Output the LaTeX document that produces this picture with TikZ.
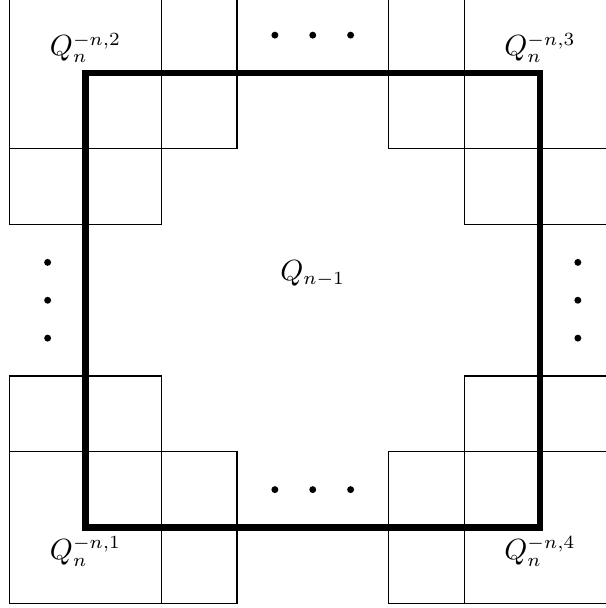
\documentclass[tikz,border=0pt]{standalone}
\usepackage{amsmath}
\usetikzlibrary{positioning}
\tikzset{
    cell/.style={draw, line width=0.4pt},
    corner/.style={draw, fill=white, line width=0.4pt},
    bigbox/.style={draw, line width=2.6pt},
    dot/.style={circle, fill, inner sep=0pt, minimum size=2.6pt},
    lab/.style={inner sep=1pt, font=\fontsize{10.7}{13}\selectfont}
}

\begin{document}
\begin{tikzpicture}
    \clip (-1.129,-1.063) rectangle (6.871,6.964);
    % cubes next to the corners
    \foreach \x/\y in {0/1, 1/0, 6/1, 5/0, 0/5, 1/6, 6/5, 5/6}
        \draw[cell] (\x-1,\y-1) rectangle (\x+1,\y+1);
    % corner cubes
    \foreach \x/\y in {0/0, 6/0, 0/6, 6/6}
        \draw[corner] (\x-1,\y-1) rectangle (\x+1,\y+1);

    % the big cube
    \draw[bigbox] (0,0) rectangle (6,6);

    % labels
    \node[lab] (qc) at (3,3.35) {$Q_{n-1}$};
    \node[lab] (q1) at (0,-0.32) {$Q_n^{-n,1}$};
    \node[lab] (q2) at (0,6.33) {$Q_n^{-n,2}$};
    \node[lab] (q3) at (6,6.33) {$Q_n^{-n,3}$};
    \node[lab] (q4) at (6,-0.32) {$Q_n^{-n,4}$};

    % dots
    \foreach \i/\t in {1/2.5, 2/3, 3/3.5} {
        \node[dot] (top\i) at (\t,6.5) {};
        \node[dot] (bot\i) at (\t,0.5) {};
        \node[dot] (lft\i) at (-0.5,\t) {};
        \node[dot] (rgt\i) at (6.5,\t) {};
    }
\end{tikzpicture}
\end{document}
